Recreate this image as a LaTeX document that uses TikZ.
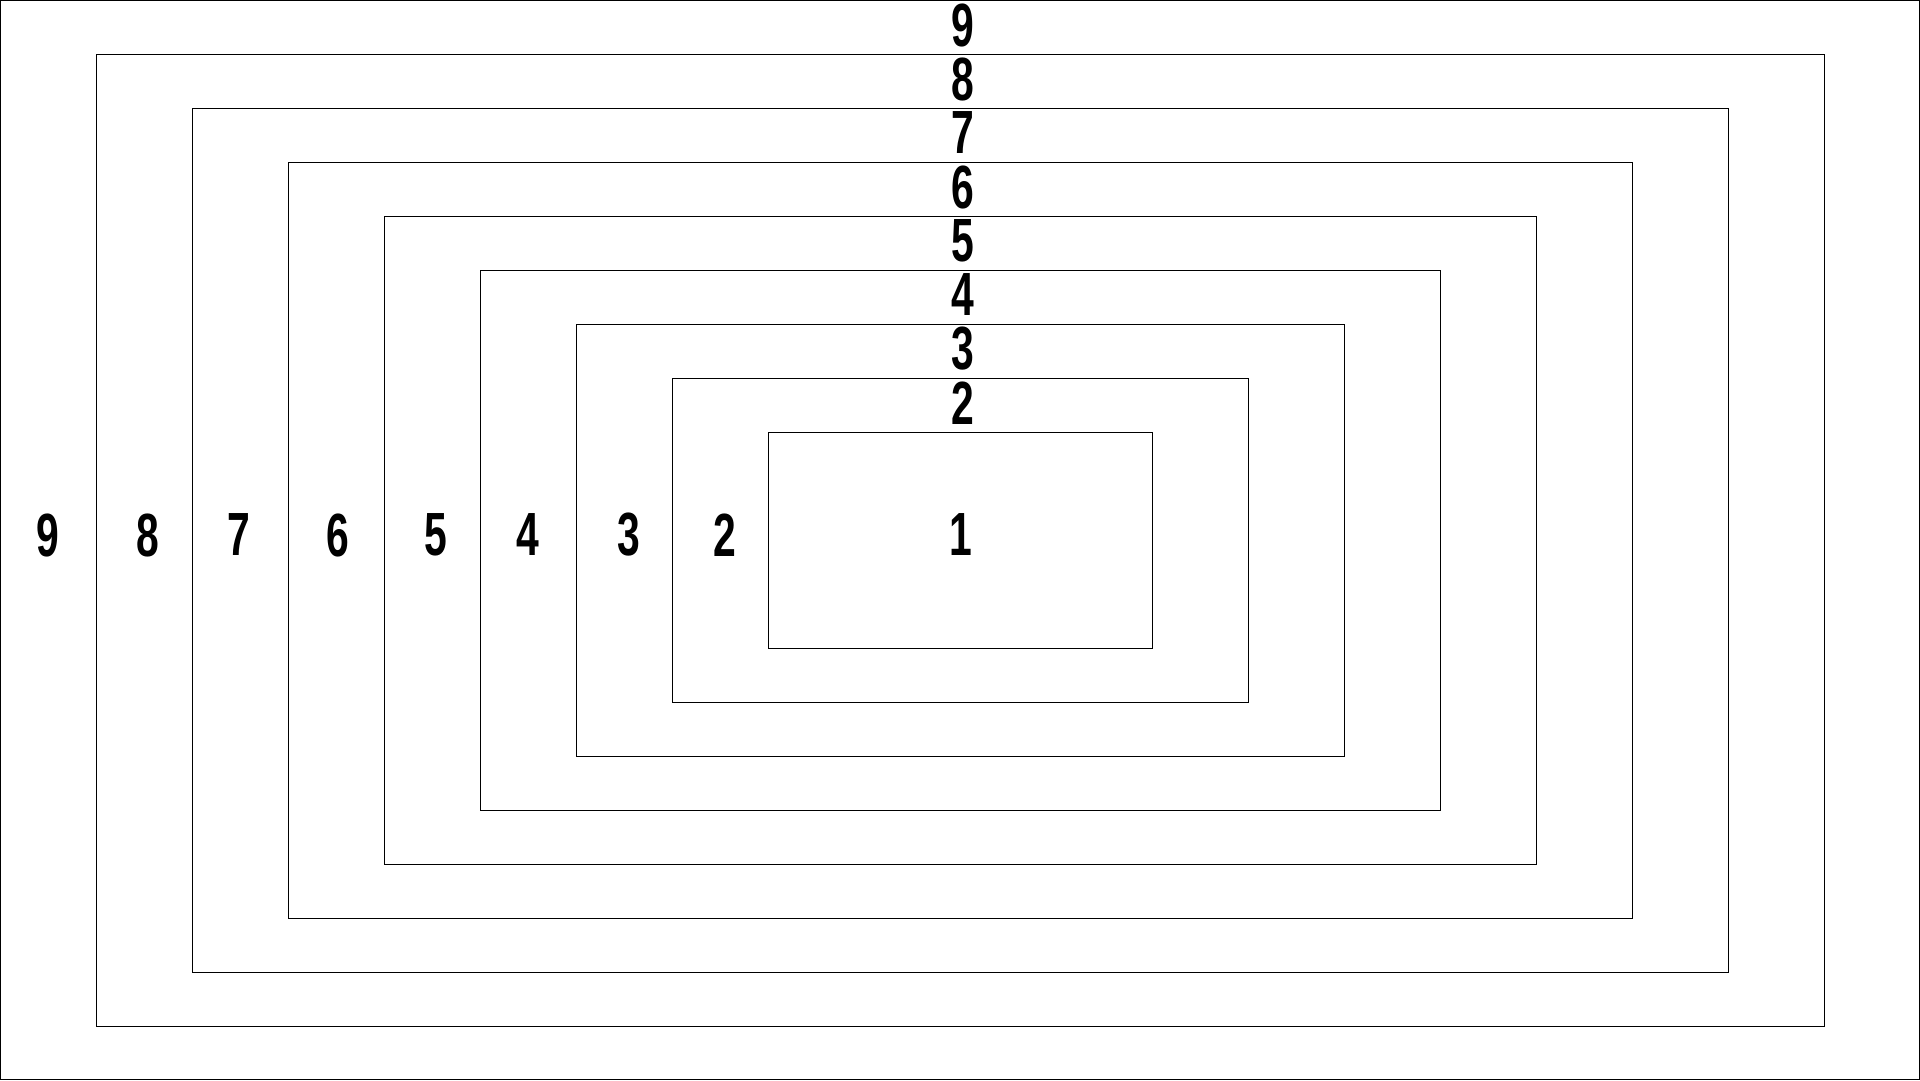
\documentclass[tikz,border=0pt]{standalone}
\usepackage{fontspec}
\newfontfamily\digitfont{Liberation Sans}
\newcommand\dg[1]{\scalebox{0.67}[1]{#1}}
\begin{document}
\begin{tikzpicture}[x=1pt,y=-1pt,
  ring/.style={draw=black, line width=1pt, fill=none, inner sep=0pt, outer sep=0pt},
  lbl/.style={font=\digitfont\bfseries\fontsize{61}{61}\selectfont, inner sep=0pt, anchor=center, text=black}]
\useasboundingbox (0,0) rectangle (1920,1080);
\fill[white] (0,0) rectangle (1920,1080);
% rings
\node[ring, minimum width=1919pt, minimum height=1079pt] (r9) at (960,540) {};
\foreach \k in {8,7,...,1}{
  \pgfmathsetmacro{\w}{1920-2*(9-\k)*96}
  \pgfmathsetmacro{\h}{1080-2*(9-\k)*54}
  \node[ring, minimum width=\w pt, minimum height=\h pt] (r\k) at (960,540) {};
}
% centre label
\node[lbl] (l1) at (960.5,535) {\dg{1}};
% left labels
\foreach \k/\xl in {9/48,8/148,7/239,6/338,5/436,4/528,3/629,2/724.5}{
  \node[lbl] (left\k) at (\xl,535) {\dg{\k}};
}
% top labels
\foreach \k in {2,...,9}{
  \pgfmathsetmacro{\yt}{(9-\k)*54+25}
  \node[lbl] (top\k) at (962.5,\yt) {\dg{\k}};
}
\end{tikzpicture}
\end{document}
